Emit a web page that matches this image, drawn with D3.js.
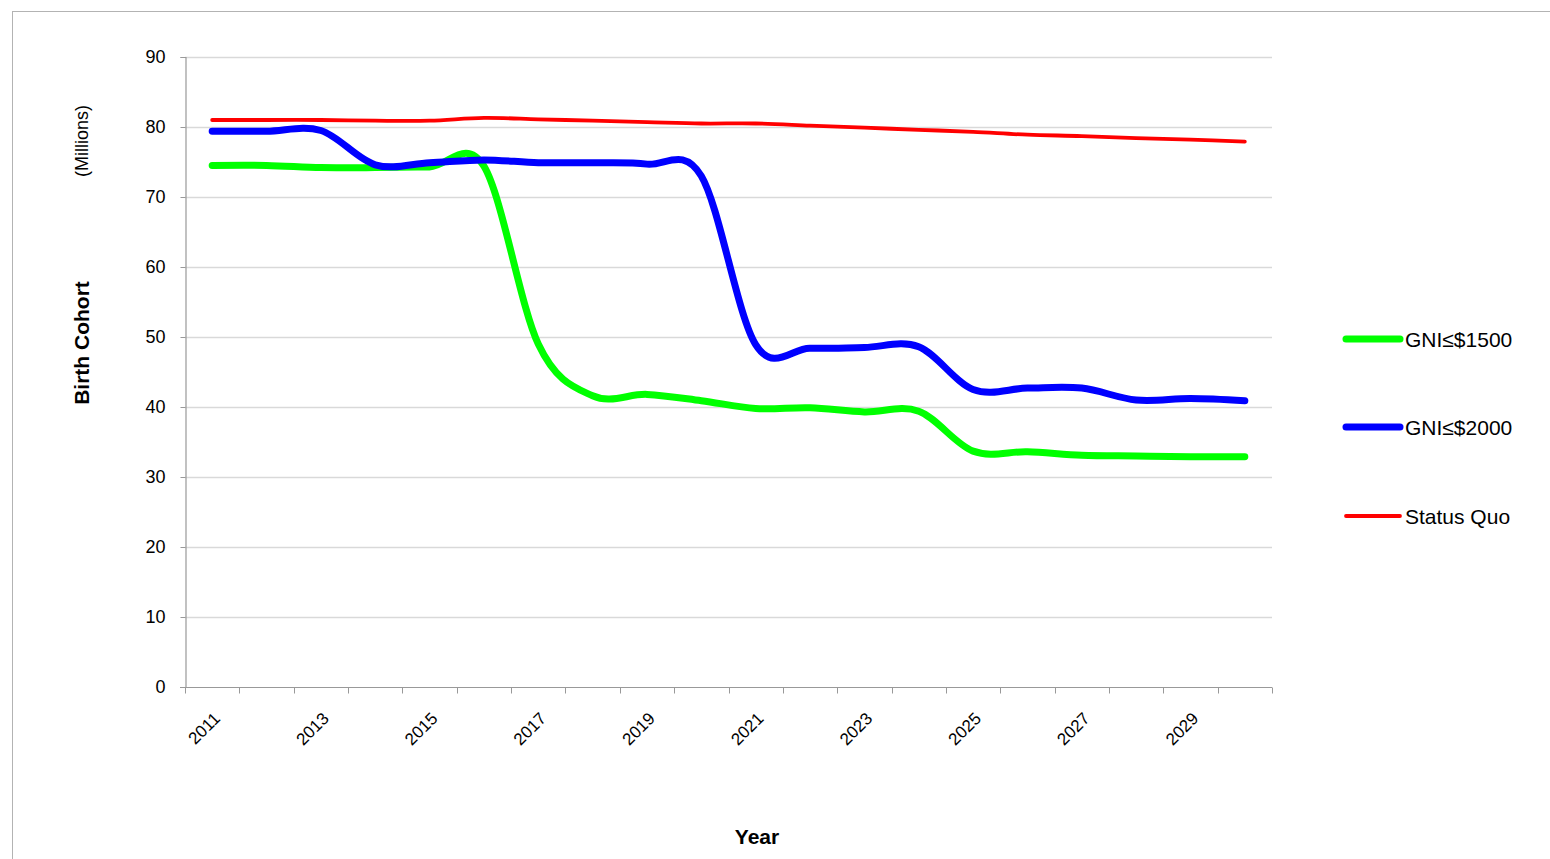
<!DOCTYPE html>
<html>
<head>
<meta charset="utf-8">
<script src="https://cdn.jsdelivr.net/npm/d3@7"></script>
<style>
  html, body { margin: 0; padding: 0; background: #fff; }
  svg { display: block; font-family: "Liberation Sans", Arial, sans-serif; }
</style>
</head>
<body>
<svg id="chart" width="1550" height="859"></svg>
<script>
// Birth cohort projections (millions), 2011–2030
const years = [2011, 2012, 2013, 2014, 2015, 2016, 2017, 2018, 2019, 2020,
               2021, 2022, 2023, 2024, 2025, 2026, 2027, 2028, 2029, 2030];
const gni1500 = [74.5, 74.5, 74.2, 74.2, 74.3, 74.4, 49.0, 41.6, 41.8, 40.9,
                 39.8, 39.9, 39.3, 39.4, 33.7, 33.6, 33.1, 33.0, 32.9, 32.9];
const gni2000 = [79.4, 79.4, 79.5, 74.6, 74.9, 75.3, 74.9, 74.9, 74.7, 73.0,
                 48.9, 48.4, 48.5, 48.6, 42.5, 42.7, 42.7, 41.0, 41.2, 40.9];
const statusQuo = [81.0, 81.0, 81.0, 80.9, 80.9, 81.3, 81.1, 80.9, 80.7, 80.5,
                   80.5, 80.2, 79.9, 79.6, 79.3, 78.9, 78.7, 78.4, 78.2, 77.9];
const yTicks = [0, 10, 20, 30, 40, 50, 60, 70, 80, 90];
const seriesNames = ["GNI≤$1500", "GNI≤$2000", "Status Quo"];

const series = [
  { name: seriesNames[0], values: gni1500, color: "#00ff00", width: 7 },
  { name: seriesNames[1], values: gni2000, color: "#0000ff", width: 7 },
  { name: seriesNames[2], values: statusQuo, color: "#ff0000", width: 3.8 }
];

const svg = d3.select("#chart");
const plot = { left: 185, right: 1272, top: 57, bottom: 687 };

// Outer chart frame
svg.append("rect")
  .attr("x", 12.5).attr("y", 11.5)
  .attr("width", 1540).attr("height", 860)
  .attr("fill", "none").attr("stroke", "#b3b3b3").attr("stroke-width", 1);

const x = d3.scaleBand().domain(years).range([plot.left, plot.right]).padding(0);
const y = d3.scaleLinear().domain([0, 90]).range([plot.bottom, plot.top]);

// Horizontal gridlines
svg.append("g")
  .selectAll("line")
  .data(yTicks.filter(d => d > 0))
  .join("line")
  .attr("x1", plot.left).attr("x2", plot.right)
  .attr("y1", d => Math.round(y(d)) + 0.5).attr("y2", d => Math.round(y(d)) + 0.5)
  .attr("stroke", "#d9d9d9").attr("stroke-width", 1.5);

// Y axis
const yAxis = svg.append("g")
  .attr("transform", `translate(${plot.left + 0.5},0)`)
  .call(d3.axisLeft(y).tickValues(yTicks).tickSize(5).tickPadding(15));
yAxis.select(".domain").attr("stroke", "#999").attr("stroke-width", 1.2);
yAxis.selectAll(".tick line").attr("stroke", "#999");
yAxis.selectAll(".tick text")
  .attr("font-size", 18).attr("fill", "#000")
  .attr("font-family", "Liberation Sans, Arial, sans-serif");

// X axis: category ticks sit at band boundaries
const xAxisG = svg.append("g").attr("transform", `translate(0,${plot.bottom + 0.5})`);
xAxisG.append("line")
  .attr("x1", plot.left - 5).attr("x2", plot.right)
  .attr("stroke", "#999").attr("stroke-width", 1.2);
const boundaries = years.map(yr => x(yr)).concat([x(years[years.length - 1]) + x.bandwidth()]);
xAxisG.selectAll("line.tk")
  .data(boundaries)
  .join("line").attr("class", "tk")
  .attr("x1", d => Math.round(d) + 0.5).attr("x2", d => Math.round(d) + 0.5)
  .attr("y1", 0).attr("y2", 6)
  .attr("stroke", "#999");
xAxisG.selectAll("text")
  .data(years.filter((d, i) => i % 2 === 0))
  .join("text")
  .attr("transform", d => `translate(${x(d) + x.bandwidth() / 2 + 9},${32}) rotate(-45)`)
  .attr("text-anchor", "end")
  .attr("font-size", 17)
  .attr("fill", "#000")
  .text(d => d);

// Axis titles
svg.append("text")
  .attr("transform", "translate(89,343) rotate(-90)")
  .attr("text-anchor", "middle")
  .attr("font-size", 21).attr("font-weight", "bold")
  .text("Birth Cohort");
svg.append("text")
  .attr("transform", "translate(88,141) rotate(-90)")
  .attr("text-anchor", "middle")
  .attr("font-size", 18)
  .text("(Millions)");
svg.append("text")
  .attr("x", 757).attr("y", 844)
  .attr("text-anchor", "middle")
  .attr("font-size", 21).attr("font-weight", "bold")
  .text("Year");

// Smoothed series lines
const line = d3.line()
  .x((d, i) => x(years[i]) + x.bandwidth() / 2)
  .y(d => y(d))
  .curve(d3.curveCatmullRom.alpha(0));

svg.append("g")
  .selectAll("path")
  .data(series)
  .join("path")
  .attr("d", s => line(s.values))
  .attr("fill", "none")
  .attr("stroke", s => s.color)
  .attr("stroke-width", s => s.width)
  .attr("stroke-linecap", "round")
  .attr("stroke-linejoin", "round");

// Legend
const legendY = [339, 427, 516];
const legend = svg.append("g")
  .selectAll("g")
  .data(series)
  .join("g")
  .attr("transform", (s, i) => `translate(1346,${legendY[i]})`);
legend.append("line")
  .attr("x1", 0).attr("x2", 54)
  .attr("stroke", s => s.color)
  .attr("stroke-width", s => s.width)
  .attr("stroke-linecap", "round");
legend.append("text")
  .attr("x", 59).attr("y", 7.5)
  .attr("font-size", 21)
  .attr("fill", "#000")
  .text(s => s.name);
</script>
</body>
</html>
